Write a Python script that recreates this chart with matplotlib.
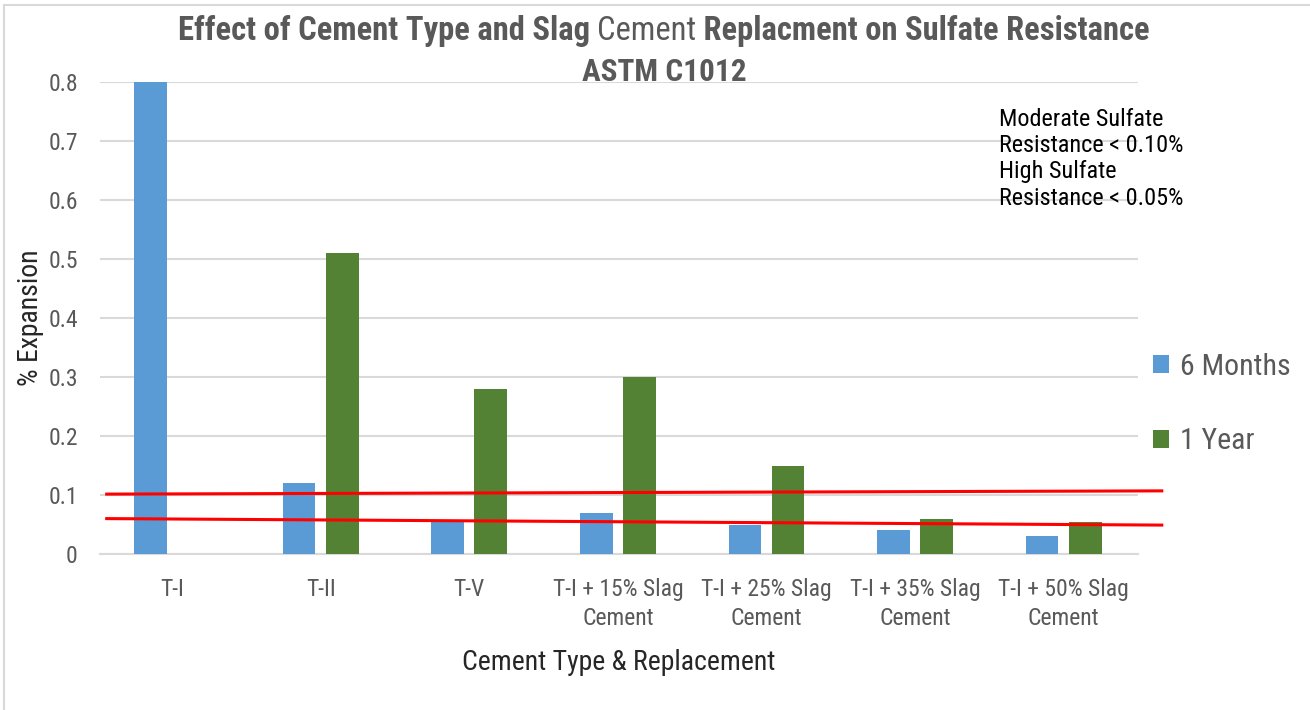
import matplotlib
matplotlib.use("Agg")
import matplotlib.pyplot as plt
import numpy as np
from matplotlib.offsetbox import TextArea, HPacker, AnnotationBbox
from matplotlib.patches import Rectangle

plt.rcParams['font.family'] = ['Liberation Sans Narrow', 'DejaVu Sans Condensed', 'Roboto Condensed',
                               'Open Sans Condensed', 'Noto Sans Condensed', 'Liberation Sans']

# ---- data ----
categories = ["T-I", "T-II", "T-V", "T-I + 15% Slag\nCement", "T-I + 25% Slag\nCement",
              "T-I + 35% Slag\nCement", "T-I + 50% Slag\nCement"]
six_months = [0.80, 0.12, 0.057, 0.07, 0.05, 0.04, 0.03]
one_year = [0.0, 0.51, 0.28, 0.30, 0.15, 0.06, 0.055]

# hand drawn limit lines (start / end value)
moderate_limit = [0.1015, 0.107]
high_limit = [0.060, 0.049]
limit_x = [-0.44, 6.66]

note = "Moderate Sulfate\nResistance < 0.10%\nHigh Sulfate\nResistance < 0.05%"

blue = "#5B9BD5"
green = "#548235"
grey_txt = "#595959"
grid_col = "#D9D9D9"

fig = plt.figure(figsize=(13.1, 7.1), dpi=100)
ax = fig.add_axes([100/1310, 1-554/710, 1038/1310, 472/710])

x = np.arange(len(categories))
w = 0.22
b1 = ax.bar(x - 0.145, six_months, w, color=blue, label="6 Months", zorder=3)
b2 = ax.bar(x + 0.145, one_year, w, color=green, label="1 Year", zorder=3)

ax.set_xlim(-0.485, 6.5)
ax.set_ylim(0, 0.8)
ax.set_yticks(np.arange(0, 0.81, 0.1))
ax.set_yticklabels(["0", "0.1", "0.2", "0.3", "0.4", "0.5", "0.6", "0.7", "0.8"])
ax.set_xticks(x)
ax.set_xticklabels(categories, linespacing=1.35)
ax.tick_params(axis='both', length=0, colors=grey_txt, labelsize=17)
ax.tick_params(axis='x', pad=17)
ax.tick_params(axis='y', pad=16)
ax.yaxis.grid(True, color=grid_col, linewidth=1.5, zorder=0)
for s in ["top", "right", "left"]:
    ax.spines[s].set_visible(False)
ax.spines["bottom"].set_color(grid_col)
ax.spines["bottom"].set_linewidth(1.5)

ax.set_xlabel("Cement Type & Replacement", fontsize=20, color="#262626", labelpad=14)
ax.set_ylabel("% Expansion", fontsize=20, color="#262626", labelpad=3)

# limit lines
ax.plot(limit_x, moderate_limit, color="red", linewidth=2.2, clip_on=False, zorder=5)
ax.plot(limit_x, high_limit, color="red", linewidth=2.2, clip_on=False, zorder=5)

# note text
fig.text(999/1310, 1-108/710, note, fontsize=17.5, color="black", va="top", ha="left",
         linespacing=1.18)

# legend
ax.legend(handles=[b1, b2], loc="center left", bbox_to_anchor=(1153/1310, 1-404/710),
          bbox_transform=fig.transFigure, frameon=False, fontsize=21.5, labelcolor=grey_txt,
          borderpad=0, borderaxespad=0, labelspacing=1.55, handlelength=0.55,
          handleheight=0.55, handletextpad=0.35)

# title with mixed weight
tprops = dict(fontsize=23.5, color=grey_txt)
parts = [TextArea("Effect of Cement Type and Slag ", textprops=dict(fontweight="bold", **tprops)),
         TextArea("Cement", textprops=dict(fontweight="normal", **tprops)),
         TextArea(" Replacment on Sulfate Resistance", textprops=dict(fontweight="bold", **tprops))]
pack = HPacker(children=parts, align="baseline", pad=0, sep=0)
fig.add_artist(AnnotationBbox(pack, (664/1310, 1-31/710), xycoords="figure fraction",
                              frameon=False, box_alignment=(0.5, 0.5)))
fig.text(664/1310, 1-72/710, "ASTM C1012", fontweight="bold", ha="center", va="center",
         fontsize=22.5, color=grey_txt)

# chart border
fig.add_artist(Rectangle((4/1310, -0.01), 1.2, 1-5/710 + 0.01, transform=fig.transFigure,
                         fill=False, edgecolor=grid_col, linewidth=1.5))

fig.savefig("out.png", dpi=100)
